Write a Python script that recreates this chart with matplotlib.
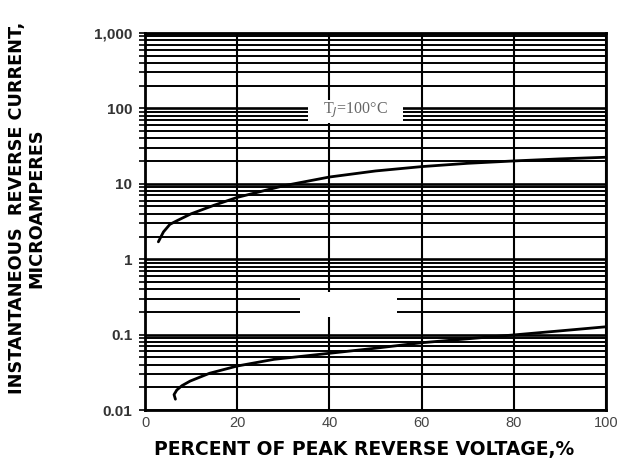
import matplotlib
matplotlib.use("Agg")
import matplotlib.pyplot as plt
from matplotlib.ticker import FixedLocator, NullFormatter, LogLocator
from matplotlib.patches import Rectangle

plt.rcParams['font.family'] = ['Liberation Sans', 'DejaVu Sans']

# Data
x_hot = [2.9, 4.0, 5.4, 7.2, 10, 15, 20, 30, 40, 50, 60, 70, 80, 90, 100]
y_hot = [1.7, 2.3, 2.9, 3.3, 4.0, 5.2, 6.6, 9.4, 12.3, 14.8, 16.9, 18.7, 20.1, 21.4, 22.5]

x_cold = [6.6, 6.3, 6.9, 8.0, 9.8, 14, 20, 28, 40, 50, 60, 70, 80, 90, 100]
y_cold = [0.0139, 0.016, 0.0184, 0.021, 0.0242, 0.0307, 0.0383, 0.047, 0.0565, 0.066,
          0.078, 0.088, 0.099, 0.112, 0.127]

x_ticks = [0, 20, 40, 60, 80, 100]
x_tick_labels = ["0", "20", "40", "60", "80", "100"]
y_ticks = [0.01, 0.1, 1, 10, 100, 1000]
y_tick_labels = ["0.01", "0.1", "1", "10", "100", "1,000"]
label_hot = "T$_J$=100°C"

fig = plt.figure(figsize=(6.3, 4.63), dpi=100)
ax = fig.add_axes([145/630, 1-410/463, 461/630, 377/463])
ax.set_yscale('log')
ax.set_xlim(0, 100)
ax.set_ylim(0.01, 1000)

# grid
ax.yaxis.set_major_locator(FixedLocator(y_ticks))
ax.yaxis.set_minor_locator(LogLocator(base=10, subs=range(2, 10)))
ax.yaxis.set_minor_formatter(NullFormatter())
ax.set_yticklabels(y_tick_labels)
ax.set_xticks(x_ticks)
ax.set_xticklabels(x_tick_labels)
ax.grid(which='major', axis='y', color='black', lw=1.9)
ax.grid(which='minor', axis='y', color='black', lw=1.4)
ax.grid(which='major', axis='x', color='black', lw=1.5)

for s in ax.spines.values():
    s.set_linewidth(2)

ax.tick_params(axis='y', which='both', direction='out', length=4, width=1.2,
               labelsize=11, colors='black', labelcolor='#333333', pad=5)
ax.tick_params(axis='x', which='both', length=0, labelsize=10.5, labelcolor='#444444', pad=4)
for t in ax.get_yticklabels():
    t.set_fontweight('bold')

ax.plot(x_hot, y_hot, color='black', lw=2, solid_capstyle='round', zorder=5)
ax.plot(x_cold, y_cold, color='black', lw=2, solid_capstyle='round', zorder=5)

# white label boxes
ax.add_patch(Rectangle((35.4, 64), 20.6, 65, transform=ax.transData,
                       facecolor='white', edgecolor='none', zorder=4))
ax.text(45.7, 95, label_hot, ha='center', va='center', fontsize=11.5, color='#666666',
        family='Liberation Serif', zorder=6)
ax.add_patch(Rectangle((33.6, 0.172), 21.1, 0.2, transform=ax.transData,
                       facecolor='white', edgecolor='none', zorder=4))

fig.text(364/630, 1-450/463, "PERCENT OF PEAK REVERSE VOLTAGE,%", fontsize=13.5,
         fontweight='bold', family='DejaVu Sans', ha='center', va='center')
fig.text(27/630, 1-208/463, "INSTANTANEOUS  REVERSE CURRENT,\nMICROAMPERES", fontsize=12.7,
         fontweight='bold', family='DejaVu Sans', ha='center', va='center',
         rotation=90, linespacing=1.1, multialignment='center')

fig.savefig("out.png", dpi=100)
